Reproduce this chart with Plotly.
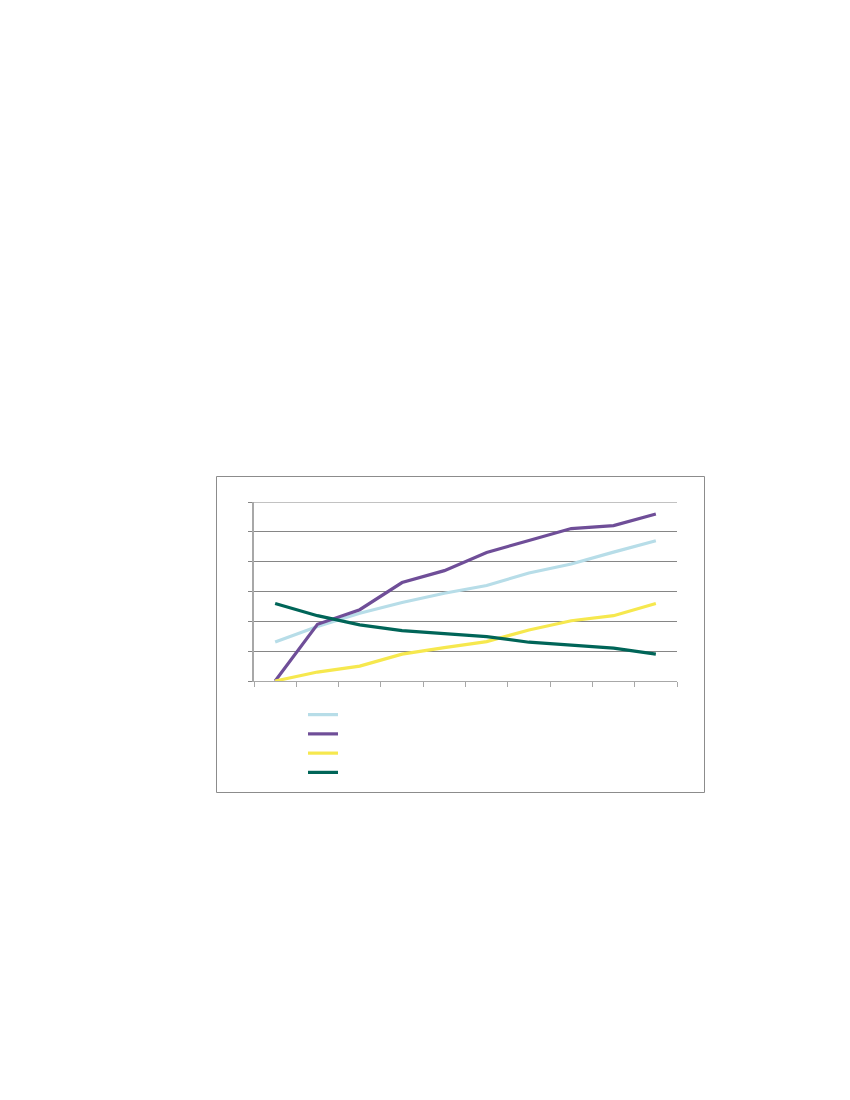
import plotly.graph_objects as go

# ten periods, four series, no text labels in the original
periods = list(range(1, 11))
light_blue = [1.31, 1.83, 2.27, 2.63, 2.94, 3.2, 3.62, 3.92, 4.32, 4.7]
purple = [0.0, 1.9, 2.39, 3.3, 3.7, 4.31, 4.71, 5.11, 5.21, 5.6]
yellow = [0.0, 0.3, 0.5, 0.9, 1.12, 1.32, 1.71, 2.02, 2.19, 2.6]
dark_green = [2.6, 2.19, 1.88, 1.69, 1.59, 1.49, 1.3, 1.2, 1.1, 0.9]
y_top = 6

series = [
    (light_blue, "#B7DDE8"),
    (purple, "#6F4E98"),
    (yellow, "#F6E84E"),
    (dark_green, "#006558"),
]

fig = go.Figure()
for vals, col in series:
    fig.add_trace(go.Scatter(
        x=periods, y=vals, mode="lines", name=" ",
        line=dict(color=col, width=3.2),
    ))

# page has an 8px body margin, so work in page coords minus 8
OFF = 8
W, H = 850 - OFF * 2, 1100 - OFF * 2


def px_x(v):
    return (v - OFF) / W


def px_y(v):
    return 1 - (v - OFF) / H


fig.update_layout(
    width=W, height=H,
    margin=dict(l=0, r=0, t=0, b=0),
    paper_bgcolor="white", plot_bgcolor="white",
    showlegend=True,
    legend=dict(
        x=px_x(303), y=px_y(700), xanchor="left", yanchor="top",
        bgcolor="rgba(0,0,0,0)", tracegroupgap=0,
        font=dict(size=12.5, family="Liberation Sans"),
        itemwidth=30,
    ),
    shapes=[
        # outer chart border
        dict(
            type="rect", xref="paper", yref="paper",
            x0=px_x(216.5), x1=px_x(704.5), y0=px_y(792.5), y1=px_y(476.5),
            line=dict(color="#8c8c8c", width=1), fillcolor="rgba(0,0,0,0)",
        ),
        # top gridline (plotly skips the one at the range edge)
        dict(
            type="line", xref="x domain", yref="y",
            x0=0, x1=1, y0=y_top, y1=y_top, layer="below",
            line=dict(color="#868686", width=1),
        ),
    ],
)

fig.update_xaxes(
    domain=[px_x(254), px_x(677)],
    range=[0.5, 10.5],
    tickmode="array", tickvals=[i + 0.5 for i in range(0, 11)],
    ticks="outside", ticklen=5, tickcolor="#a8a8a8",
    showticklabels=False, showgrid=False, zeroline=False,
    showline=True, linecolor="#a8a8a8", linewidth=1,
)
fig.update_yaxes(
    domain=[px_y(681), px_y(502)],
    range=[0, y_top], dtick=1,
    ticks="outside", ticklen=4, tickcolor="#868686",
    showticklabels=False, showgrid=True, gridcolor="#868686", gridwidth=1,
    zeroline=False, showline=True, linecolor="#a8a8a8", linewidth=2,
)

fig.write_html("out.html")
